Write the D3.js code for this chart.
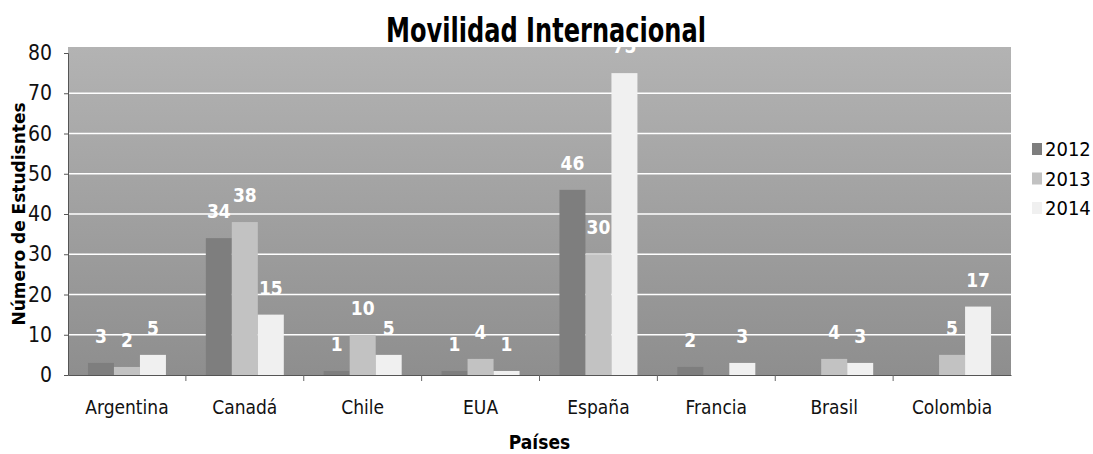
<!DOCTYPE html>
<html>
<head>
<meta charset="utf-8">
<script src="https://cdn.jsdelivr.net/npm/d3@7"></script>
<style>
body { margin:0; background:#fff; }
text { font-family: "DejaVu Sans Condensed", "Liberation Sans", sans-serif; }
</style>
</head>
<body>
<div id="viz"></div>
<script>
// datos
var paises = ["Argentina","Canadá","Chile","EUA","España","Francia","Brasil","Colombia"];
var anios = ["2012","2013","2014"];
var v2012 = [3,34,1,1,46,2,0,0];
var v2013 = [2,38,10,4,30,0,4,5];
var v2014 = [5,15,5,1,75,3,3,17];
var yTicks = [0,10,20,30,40,50,60,70,80];

var colores = {"2012":"#7e7e7e","2013":"#c2c2c2","2014":"#f0f0f0"};

var W = 1093, H = 454;
var mLeft = 68, mRight = 1011, mTop = 53, mBottom = 375;

var svg = d3.select("#viz")
    .append("svg")
    .attr("width",W)
    .attr("height",H);

var x0 = d3.scaleBand().domain(paises).range([mLeft,mRight]);
var bw = x0.bandwidth();
var x1 = d3.scaleBand().domain(anios).range([(bw-78)/2,(bw+78)/2]);
var y = d3.scaleLinear().domain([0,80]).range([mBottom,mTop]);

// fondo del area
var defs = svg.append("defs");
var grad = defs.append("linearGradient").attr("id","fondo")
    .attr("x1",0).attr("y1",0).attr("x2",0).attr("y2",1);
grad.append("stop").attr("offset","0%").attr("stop-color","#b3b3b3");
grad.append("stop").attr("offset","100%").attr("stop-color","#8e8e8e");
defs.append("clipPath").attr("id","area")
    .append("rect").attr("x",mLeft).attr("y",mTop-6).attr("width",mRight-mLeft).attr("height",mBottom-mTop+6);

svg.append("rect")
    .attr("x",mLeft).attr("y",mTop-6)
    .attr("width",mRight-mLeft).attr("height",mBottom-mTop+6)
    .attr("fill","url(#fondo)");

// lineas de la grilla
svg.append("g").selectAll("line")
    .data(yTicks.filter(function(d){return d>0 && d<80;}))
    .enter().append("line")
    .attr("x1",mLeft).attr("x2",mRight)
    .attr("y1",function(d){return y(d);})
    .attr("y2",function(d){return y(d);})
    .attr("stroke","#ffffff")
    .attr("stroke-width",1.5);

var series = [v2012,v2013,v2014];
var filas = paises.map(function(p,i){
    return anios.map(function(a,j){ return {pais:p, anio:a, v:series[j][i]}; });
});

var gs = svg.append("g").attr("clip-path","url(#area)")
    .selectAll("g")
    .data(filas)
    .enter()
    .append("g")
    .attr("transform",function(d,i){ return "translate("+x0(paises[i])+",0)"; });

gs.selectAll("rect")
    .data(function(d){return d;})
    .enter().append("rect")
    .attr("x",function(d){return x1(d.anio);})
    .attr("y",function(d){return y(d.v);})
    .attr("width",x1.bandwidth())
    .attr("height",function(d){return mBottom-y(d.v);})
    .attr("fill",function(d){return colores[d.anio];});

// etiquetas de valores (no se muestran los ceros)
gs.selectAll("text")
    .data(function(d){return d.filter(function(e){return e.v>0;});})
    .enter().append("text")
    .attr("x",function(d){return x1(d.anio)+x1.bandwidth()/2;})
    .attr("y",function(d){return y(d.v)-20;})
    .attr("text-anchor","middle")
    .attr("fill","#ffffff")
    .attr("font-weight","bold")
    .attr("font-size",19)
    .text(function(d){return d.v;});

// eje y
var ejeY = svg.append("g")
    .attr("transform","translate("+mLeft+",0)")
    .call(d3.axisLeft(y).tickValues(yTicks).tickSize(4).tickPadding(12));
ejeY.select(".domain").attr("stroke","#555");
ejeY.selectAll(".tick line").attr("stroke","#555");
ejeY.selectAll("text").attr("font-size",21).attr("fill","#111")
    .style("font-family","'DejaVu Sans Condensed', 'Liberation Sans', sans-serif");

// eje x
var ejeX = svg.append("g")
    .attr("transform","translate(0,"+mBottom+")")
    .call(d3.axisBottom(x0).tickSize(0).tickPadding(26));
ejeX.select(".domain").attr("stroke","#555");
ejeX.selectAll("text").attr("font-size",19).attr("fill","#111")
    .style("font-family","'DejaVu Sans Condensed', 'Liberation Sans', sans-serif");
svg.append("g").selectAll("line")
    .data(paises.slice(1))
    .enter().append("line")
    .attr("x1",function(d){return x0(d);})
    .attr("x2",function(d){return x0(d);})
    .attr("y1",mBottom).attr("y2",mBottom+6)
    .attr("stroke","#666");

// titulos
svg.append("text")
    .attr("x",546).attr("y",42)
    .attr("text-anchor","middle")
    .attr("font-size",34)
    .attr("font-weight","bold")
    .attr("fill","#000")
    .attr("textLength",320)
    .attr("lengthAdjust","spacingAndGlyphs")
    .text("Movilidad Internacional");

svg.append("text")
    .attr("transform","translate(25,"+((mTop+mBottom)/2)+") rotate(-90)")
    .attr("text-anchor","middle")
    .attr("font-size",17)
    .attr("font-weight","bold")
    .style("font-family","'DejaVu Sans', sans-serif")
    .attr("fill","#000")
    .text("Número de Estudisntes");

svg.append("text")
    .attr("x",(mLeft+mRight)/2).attr("y",449)
    .attr("text-anchor","middle")
    .attr("font-size",19)
    .attr("font-weight","bold")
    .attr("fill","#000")
    .text("Países");

// leyenda
var ley = svg.append("g").selectAll("g")
    .data(anios)
    .enter().append("g")
    .attr("transform",function(d,i){ return "translate(1032,"+(149+i*29.5)+")"; });
ley.append("rect")
    .attr("x",0).attr("y",-6)
    .attr("width",10).attr("height",12)
    .attr("fill",function(d){return colores[d];});
ley.append("text")
    .attr("x",13).attr("y",7)
    .attr("font-size",20)
    .attr("fill","#000")
    .text(function(d){return d;});
</script>
</body>
</html>
